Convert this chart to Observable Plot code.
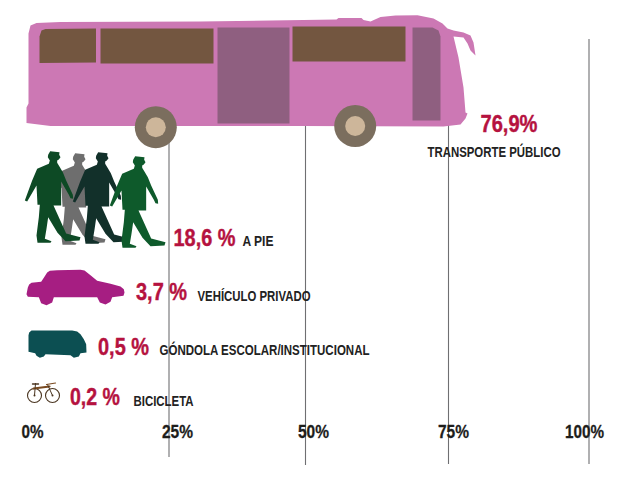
<!DOCTYPE html>
<html><head><meta charset="utf-8">
<script src="https://cdn.jsdelivr.net/npm/d3@7"></script>
<script src="https://cdn.jsdelivr.net/npm/@observablehq/plot@0.6"></script>
<style>html,body{margin:0;padding:0;background:#fff}svg{display:block}</style>
</head><body><div id="chart"></div>
<script>
// ---- data
const categories = ["TRANSPORTE PÚBLICO","A PIE","VEHÍCULO PRIVADO","GÓNDOLA ESCOLAR/INSTITUCIONAL","BICICLETA"];
const shares = [76.9,18.6,3.7,0.5,0.2];
const shareLabels = ["76,9%","18,6 %","3,7 %","0,5 %","0,2 %"];
const ticks = [0,25,50,75,100];
const tickLabels = ["0%","25%","50%","75%","100%"];

// ---- layout (page pixels)
const px = v => (v-28)/5.6;                 // page x -> axis percent
const valueAt = [[480,131.5],[173,245.5],[135.5,299],[97.5,354],[69.5,404]];
const valueWidth = [57,62,51,51,50];
const labelAt = [[427,156],[242,245],[197,300.5],[159,354],[133,405]];
const labelWidth = [133,31,113,210,60];
const tickCentre = [32,177,313,453,584];
const tickWidth = [22,31,31,31,39];
const gridPx = {25:[168.5,110,457],50:[305,110,465],75:[448,110,464],100:[588.5,39,464]};
const shape = (pts,part,dx=0,dy=0,k=1) => pts.map(([x,y])=>({x:px(x*k+dx),y:y*k+dy,part}));

// ---- pictograms, outlines
const busBody=[[30,25],[36,22.5],[60,21.5],[200,21],[336,19],[338,17.5],[361,17.5],[363,19.5],[370,21],[380,16.5],[395,15],[417,14.7],[433,18],[442,23],[447,28],[453,30],[463,32],[470,35],[473,42],[475,55],[470,50],[467,43],[463,37],[453,36],[458,57],[463,87],[465,112],[467,113],[465,118],[460,124],[443,126],[300,125.5],[50,125.5],[26,122.5],[26,107],[28,103],[28,33]];
const busWindowA=[[39,36],[41,30],[45,28.5],[95.5,28],[95.5,62],[39,62.5]];
const busWindowB=[[100,28],[213,28],[213,63],[100,63]];
const busWindowC=[[292,26],[405,26],[405,61],[292,61]];
const busDoorA=[[217,27],[289,27],[289,123],[217,123]];
const busDoorB=[[412,27],[432,27],[438,30],[440,36],[440,120],[412,120]];
const person=[[98,28],[104,17],[132,20],[131,28],[135,35],[130,42],[125,45],[125,52],[130,60],[142,80],[152,105],[172,148],[173,160],[165,158],[160,148],[137,108],[137,180],[114,180],[132,220],[152,264],[195,275],[192,285],[150,287],[126,262],[98,215],[93,250],[88,280],[108,287],[105,292],[66,292],[63,270],[70,215],[73,178],[66,178],[63,120],[35,168],[28,165],[50,105],[65,70],[100,55],[103,45],[97,35]];
const car=[[22,75],[26,66],[33,61],[62,58],[70,46],[80,30],[88,25],[110,23],[180,22],[192,24],[210,38],[230,55],[270,64],[300,72],[310,80],[312,90],[309,100],[275,104],[270,118],[255,126],[238,120],[230,104],[100,104],[95,120],[78,128],[62,122],[55,104],[22,103],[18,95]];
const van=[[24,38],[26,30],[33,24],[155,24],[170,27],[180,35],[190,50],[197,65],[198,90],[180,92],[175,102],[160,106],[150,98],[75,95],[70,102],[58,106],[48,100],[44,92],[24,88]];
const bikeFrame=[[33,388],[49,386]];
const bikeFork=[[47,384],[52,395]];
const bikeBack=[[35,383],[34,395]];
const bikeBars=[[46,384],[55,382.5]];
const bikeSeat=[[32,383.5],[38,383.5]];

const fillShape=(pts,part,fill,dx,dy,k)=>Plot.line(shape(pts,part,dx,dy,k),{x:"x",y:"y",z:"part",fill,stroke:"none",curve:"linear-closed"});
const strokeShape=(pts,part,stroke,w)=>Plot.line(shape(pts,part),{x:"x",y:"y",z:"part",stroke,strokeWidth:w,strokeLinecap:"round"});
const rows=categories.map((c,i)=>({c,v:shares[i],l:shareLabels[i],vp:valueAt[i],lp:labelAt[i]}));
const font='"Liberation Sans",Arial,sans-serif';
// squeeze each text to the width it has in the picture (condensed type)
const fit = widths => function(index,scales,values,dims,ctx,next){
  const g=next(index,scales,values,dims,ctx);
  g.querySelectorAll("text").forEach((t,i)=>{t.setAttribute("textLength",widths[index[i]]);t.setAttribute("lengthAdjust","spacingAndGlyphs");});
  return g;
};

const chart=Plot.plot({
  width:625,height:481,margin:0,
  style:{background:"#fff",fontFamily:font},
  x:{domain:[0,100],range:[28,588],axis:null},
  y:{domain:[0,481],range:[0,481],axis:null},
  marks:[
    Plot.ruleX(ticks.slice(1),{x:d=>px(gridPx[d][0]),y1:d=>gridPx[d][1],y2:d=>gridPx[d][2],stroke:"#6f6f72",strokeWidth:1.1}),
    fillShape(busBody,"bus","#cc78b4"),
    fillShape(busWindowA,"wa","#735640"),
    fillShape(busWindowB,"wb","#735640"),
    fillShape(busWindowC,"wc","#735640"),
    fillShape(busDoorA,"da","#8f5f80"),
    fillShape(busDoorB,"db","#8f5f80"),
    Plot.dot([[155.3,126.7],[354.7,125.5]],{x:d=>px(d[0]),y:d=>d[1],r:21,fill:"#7b6e5e"}),
    Plot.dot([[155.3,126.7],[354.7,125.5]],{x:d=>px(d[0]),y:d=>d[1],r:10,fill:"#cdb69a"}),
    // walkers, back to front
    fillShape(person,"p2","#6e6e6e",40,147,1/3),
    fillShape(person,"p1","#0d4a25",15,145,1/3),
    fillShape(person,"p3","#12302a",63,146,1/3),
    fillShape(person,"p4","#0e5a2b",100,150,1/3),
    fillShape(car,"car","#a61e82",20,262,1/3),
    fillShape(van,"van","#0c4f52",20,322,1/3),
    Plot.dot([[34,395],[52,395]],{x:d=>px(d[0]),y:d=>d[1],r:7,stroke:"#4a3520",strokeWidth:1.1,fill:"#fff"}),
    Plot.dot([[34,395],[52,395]],{x:d=>px(d[0]),y:d=>d[1],r:1,fill:"#4a3520"}),
    strokeShape(bikeFrame,"f","#7a4a20",2.2),
    strokeShape(bikeFork,"k","#4a3520",1),
    strokeShape(bikeBack,"b","#4a3520",1),
    strokeShape(bikeBars,"h","#7a4a20",1.2),
    strokeShape(bikeSeat,"s","#4a3520",1.4),
    // texts
    Plot.text(rows,{x:d=>px(d.vp[0]),y:d=>d.vp[1],text:"l",textAnchor:"start",lineAnchor:"bottom",fontSize:23,fontWeight:700,fill:"#b5123f",stroke:"#b5123f",strokeWidth:0.4,render:fit(valueWidth)}),
    Plot.text(rows,{x:d=>px(d.lp[0]),y:d=>d.lp[1],text:"c",textAnchor:"start",lineAnchor:"bottom",fontSize:15,fontWeight:700,fill:"#222",render:fit(labelWidth)}),
    Plot.text(ticks,{x:(d,i)=>px(tickCentre[i]),y:()=>437,text:(d,i)=>tickLabels[i],textAnchor:"middle",lineAnchor:"bottom",fontSize:18,fontWeight:700,fill:"#1d1d1b",stroke:"#1d1d1b",strokeWidth:0.3,render:fit(tickWidth)})
  ]
});
document.getElementById("chart").appendChild(chart);
</script></body></html>
